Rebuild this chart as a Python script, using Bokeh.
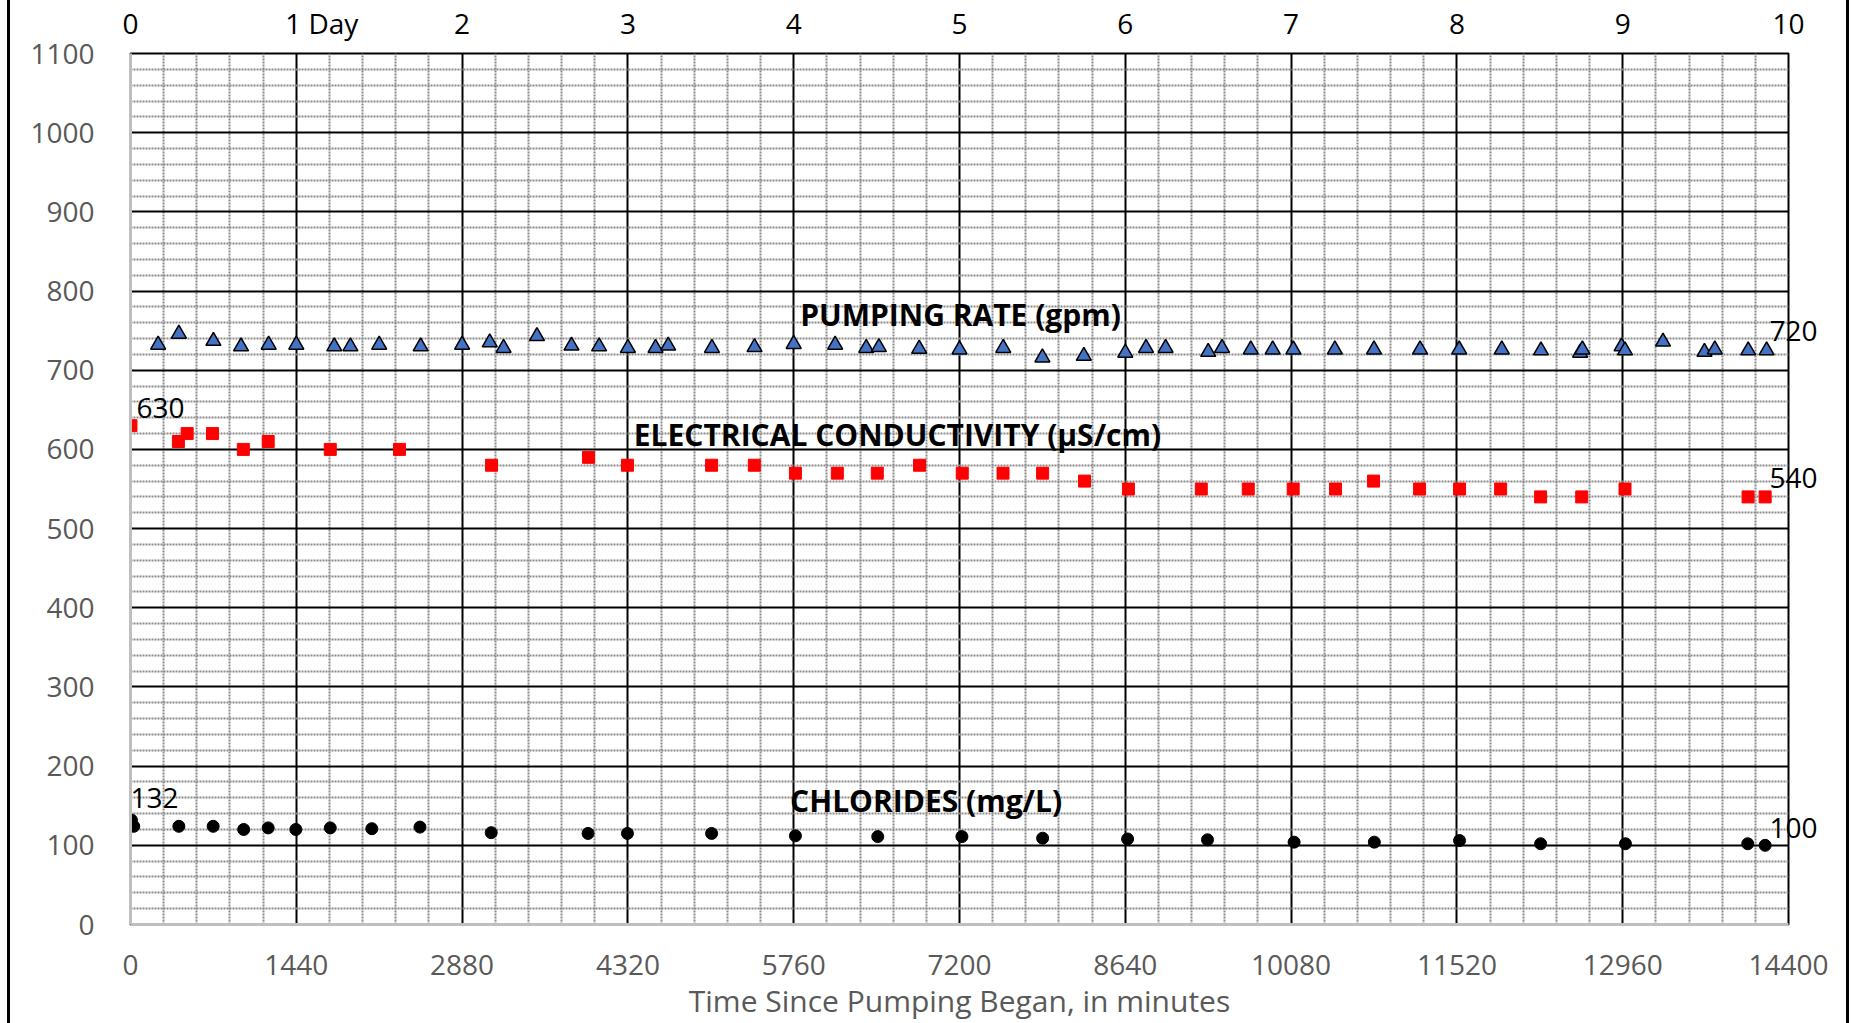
from bokeh.plotting import figure
from bokeh.models import Range1d, LinearAxis, FixedTicker, Label, Div, Spacer
from bokeh.layouts import row
from bokeh.embed import file_html
from bokeh.resources import INLINE

# ---------------- data ----------------
pr_time = [240, 420, 720, 960, 1200, 1440, 1770, 1910, 2160, 2520, 2880, 3120, 3240, 3530,
           3830, 4070, 4320, 4560, 4670, 5050, 5420, 5760, 6120, 6390, 6500, 6850, 7200,
           7580, 7920, 8280, 8640, 8820, 8990, 9360, 9480, 9730, 9920, 10100, 10460, 10800,
           11200, 11540, 11910, 12250, 12590, 12610, 12950, 12980, 13310, 13670, 13760,
           14050, 14210]
pr_gpm = [732, 746, 737, 730, 732, 732, 730, 730, 732, 730, 732, 735, 728, 743,
          731, 730, 728, 728, 731, 728, 729, 733, 732, 728, 729, 727, 726,
          728, 716, 718, 722, 728, 728, 723, 728, 726, 726, 726, 726, 726,
          726, 726, 726, 725, 722, 726, 730, 725, 736, 723, 726,
          725, 725]

ec_time = [4, 416, 492, 712, 980, 1196, 1735, 2336, 3136, 3978, 4316, 5047, 5418, 5775,
           6139, 6486, 6853, 7224, 7578, 7922, 8286, 8667, 9300, 9708, 10098, 10466,
           10796, 11196, 11543, 11900, 12247, 12604, 12980, 14049, 14197]
ec_val = [630, 610, 620, 620, 600, 610, 600, 600, 580, 590, 580, 580, 580, 570,
          570, 570, 580, 570, 570, 570, 560, 550, 550, 550, 550, 550,
          560, 550, 550, 550, 540, 540, 550, 540, 540]

cl_time = [8, 28, 420, 718, 983, 1196, 1436, 1735, 2096, 2514, 3133, 3974, 4316, 5047,
           5775, 6490, 7221, 7922, 8660, 9354, 10106, 10803, 11543, 12247, 12984,
           14046, 14197]
cl_val = [132, 124, 124, 124, 120, 122, 120, 122, 121, 123, 116, 115, 115, 115,
          112, 111, 111, 109, 108, 107, 104, 104, 106, 102, 102, 102, 100]

x_ticks = [0, 1440, 2880, 4320, 5760, 7200, 8640, 10080, 11520, 12960, 14400]
day_labels = ["0", "1 Day", "2", "3", "4", "5", "6", "7", "8", "9", "10"]
y_ticks = [0, 100, 200, 300, 400, 500, 600, 700, 800, 900, 1000, 1100]

# end-of-series value labels (shown at the right edge)
end_label_y = [749, 564, 122]
end_label_text = ["720", "540", "100"]

FONT = "Open Sans"
GRAY_TXT = "#595959"

x_minor = [t for t in range(0, 14401, 288) if t % 1440 != 0]
y_minor = [t for t in range(0, 1101, 20) if t % 100 != 0]

p = figure(width=1836, height=1023,
           x_range=Range1d(0, 14400), y_range=Range1d(0, 1100),
           output_backend="svg", toolbar_location=None,
           min_border_left=120, min_border_right=58,
           min_border_top=52, min_border_bottom=99, margin=0)
p.background_fill_color = "white"
p.border_fill_color = "white"
p.outline_line_color = "black"
p.outline_line_width = 2

xt = FixedTicker(ticks=x_ticks, minor_ticks=x_minor)
yt = FixedTicker(ticks=y_ticks, minor_ticks=y_minor)
p.xaxis.ticker = xt
p.yaxis.ticker = yt
p.xgrid.ticker = xt
p.ygrid.ticker = yt

for g in (p.xgrid[0], p.ygrid[0]):
    g.grid_line_color = "black"
    g.grid_line_width = 2
    g.minor_grid_line_color = "#8a8a8a"
    g.minor_grid_line_width = 2
    g.minor_grid_line_dash = "2 1"

for ax in (p.xaxis[0], p.yaxis[0]):
    ax.axis_line_color = "#bfbfbf"
    ax.axis_line_width = 3
    ax.major_tick_line_color = None
    ax.minor_tick_line_color = None
    ax.major_label_text_color = GRAY_TXT
    ax.major_label_text_font = FONT
    ax.major_label_text_font_size = "28px"

p.xaxis[0].major_label_standoff = 24
p.yaxis[0].major_label_standoff = 30
p.xaxis[0].axis_label = "Time Since Pumping Began, in minutes"
p.xaxis[0].axis_label_text_font = FONT
p.xaxis[0].axis_label_text_font_size = "30px"
p.xaxis[0].axis_label_text_font_style = "normal"
p.xaxis[0].axis_label_text_color = GRAY_TXT
p.xaxis[0].axis_label_standoff = 2

nb = "\u00a0"
overrides = {}
for t, labtxt in zip(x_ticks, day_labels):
    overrides[t] = (nb * 7 + labtxt) if labtxt == "1 Day" else labtxt
top = LinearAxis(ticker=FixedTicker(ticks=x_ticks), major_label_overrides=overrides)
top.axis_line_color = None
top.major_tick_line_color = None
top.minor_tick_line_color = None
top.major_label_text_color = "black"
top.major_label_text_font = FONT
top.major_label_text_font_size = "28px"
top.major_label_standoff = 6
p.add_layout(top, "above")

right = LinearAxis(ticker=FixedTicker(ticks=end_label_y),
                   major_label_overrides=dict(zip(end_label_y, end_label_text)))
right.axis_line_color = None
right.major_tick_line_color = None
right.minor_tick_line_color = None
right.major_label_text_color = "black"
right.major_label_text_font = FONT
right.major_label_text_font_size = "28px"
right.major_label_standoff = -25
p.add_layout(right, "right")

p.scatter(pr_time, pr_gpm, marker="triangle", size=15, fill_color="#4472C4",
          line_color="black", line_width=1.5)
p.scatter(ec_time, ec_val, marker="square", size=12, fill_color="#FF0000",
          line_color="#FF0000", line_width=1)
p.scatter(cl_time, cl_val, marker="circle", size=12, fill_color="black", line_color="black")

def lab(x, y, text, bold=False, align="center", size="28px"):
    p.add_layout(Label(x=x, y=y, text=text, text_font=FONT, text_font_size=size,
                       text_font_style="bold" if bold else "normal", text_color="black",
                       text_align=align, text_baseline="middle"))

lab(7209, 771, "PUMPING RATE (gpm)", bold=True, size="30px")
lab(6661, 619, "ELECTRICAL CONDUCTIVITY (µS/cm)", bold=True, size="30px")
lab(6910, 156, "CHLORIDES (mg/L)", bold=True, size="30px")

lab(52, 652, "630", align="left")
lab(0, 160, "132", align="left")

def bar():
    return Div(text="", width=3, height=1023, margin=0,
               styles={"background-color": "black"})

layout = row(Spacer(width=7, height=1023, margin=0), bar(), p, bar(),
             Spacer(width=2, height=1023, margin=0))

open("out.html", "w").write(file_html(layout, INLINE))
